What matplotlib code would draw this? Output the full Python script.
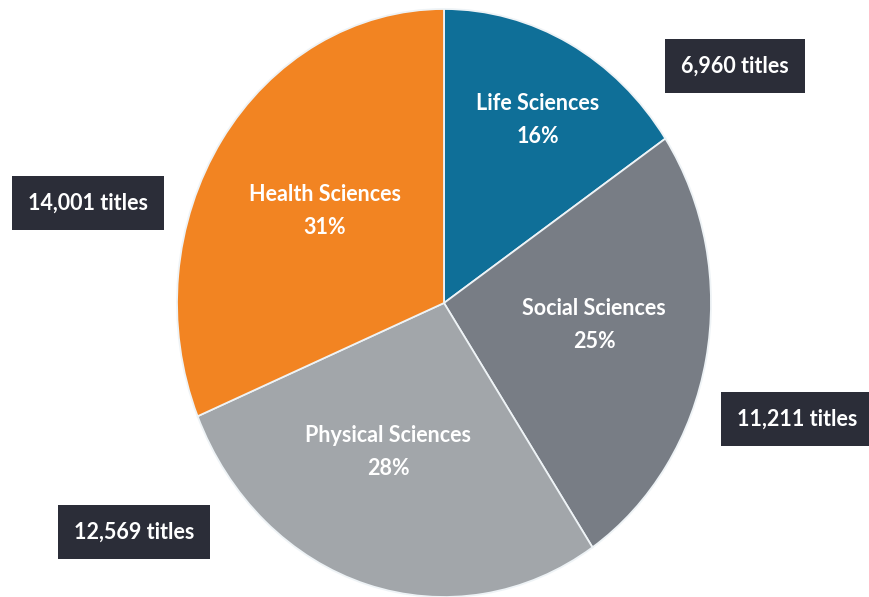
import numpy as np
import matplotlib
matplotlib.use("Agg")
import matplotlib.pyplot as plt

plt.rcParams['font.family'] = ['Lato', 'DejaVu Sans']

# data (clockwise from 12 o'clock)
categories = ["Life Sciences", "Social Sciences", "Physical Sciences", "Health Sciences"]
titles = [6960, 11211, 12569, 14001]
colors = ["#0f6f98", "#787d85", "#a2a6aa", "#f28422"]

# where the inner labels and the count boxes sit (pixels, from top-left)
inner_pos = [(538, 120), (594, 325), (388, 452), (325, 211)]
box_pos = [(735, 66), (797, 419), (134, 532), (88, 203)]

W, H = 869, 597
fig = plt.figure(figsize=(W / 100, H / 100), dpi=100)

# pie is slightly stretched vertically in the reference, so use a non-square axes
cx, cy, rx, ry = 444, 303, 267, 294
ax = fig.add_axes([(cx - rx) / W, (H - cy - ry) / H, 2 * rx / W, 2 * ry / H])
ax.pie(titles, colors=colors, startangle=90, counterclock=False,
       wedgeprops=dict(edgecolor="#eef3f6", linewidth=1.3))
ax.set_xlim(-1, 1)
ax.set_ylim(-1, 1)
ax.set_aspect("auto")
ax.axis("off")

total = sum(titles)
for cat, n, (x, y) in zip(categories, titles, inner_pos):
    pct = round(100 * n / total)
    fig.text(x / W, 1 - y / H, f"{cat}\n{pct}%", color="white", fontsize=15.5,
             fontweight="bold", ha="center", va="center", linespacing=1.75)

for n, (x, y) in zip(titles, box_pos):
    fig.text(x / W, 1 - y / H, f"{n:,} titles", color="white", fontsize=15.5,
             fontweight="bold", ha="center", va="center",
             bbox=dict(boxstyle="square,pad=0.75", facecolor="#2b2d38", edgecolor="none"))

fig.savefig("out.png", dpi=100, facecolor="white")
